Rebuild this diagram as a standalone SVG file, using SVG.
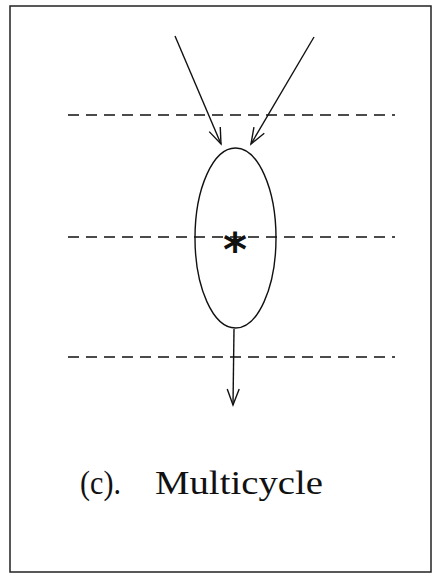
<svg xmlns="http://www.w3.org/2000/svg" width="433" height="573" viewBox="0 0 433 573">
<style>
.ln{stroke:#111;stroke-width:1.4;fill:none}
.dash{stroke:#111;stroke-width:1.6;stroke-dasharray:11 7;fill:none}
.lbl{font-family:"Liberation Serif",serif;font-size:33px;fill:#111}
</style>
<defs>
<marker id="ah" viewBox="0 0 20 20" refX="18" refY="10" markerWidth="20" markerHeight="20" markerUnits="userSpaceOnUse" orient="auto">
<path d="M2,4 L18,10 L2,16" fill="none" stroke="#111" stroke-width="1.4"/>
</marker>
</defs>
<rect x="10" y="6" width="421" height="566" fill="#fff" stroke="#222" stroke-width="1.5"/>
<g id="levels">
<line class="dash" x1="68" y1="115" x2="395" y2="115"/>
<line class="dash" x1="68" y1="237" x2="395" y2="237"/>
<line class="dash" x1="68" y1="357" x2="395" y2="357"/>
</g>
<g id="node">
<ellipse class="ln" cx="235.5" cy="238" rx="40.5" ry="90"/>
<text x="235" y="266" text-anchor="middle" style="font-family:'DejaVu Sans',sans-serif;font-size:46px;font-weight:bold;fill:#111">*</text>
</g>
<g id="connectors">
<line class="ln" x1="175" y1="36" x2="221" y2="144" marker-end="url(#ah)"/>
<line class="ln" x1="314" y1="37" x2="251" y2="144" marker-end="url(#ah)"/>
<line class="ln" x1="234" y1="329" x2="233" y2="405" marker-end="url(#ah)"/>
</g>
<g id="label">
<text class="lbl" x="80" y="494" textLength="41" lengthAdjust="spacingAndGlyphs">(c).</text>
<text class="lbl" x="155" y="494" textLength="168" lengthAdjust="spacingAndGlyphs">Multicycle</text>
</g>
</svg>
